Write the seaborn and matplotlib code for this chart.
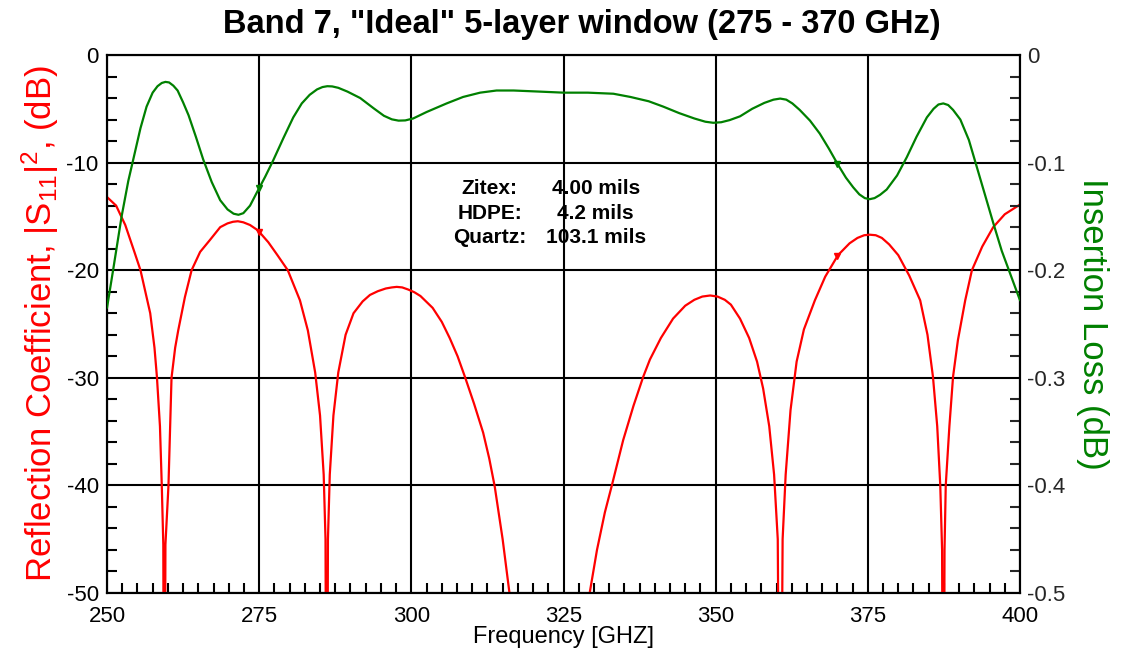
import numpy as np
import pandas as pd
import matplotlib
matplotlib.use("Agg")
import matplotlib.pyplot as plt
import seaborn as sns
from matplotlib.ticker import MultipleLocator

# reflection coefficient |S11|^2 (dB)
red_freq = [250.0, 251.5, 253.0, 254.5, 255.5, 256.5, 257.1, 257.8, 258.2, 258.7, 259.0, 259.25, 259.4,
            259.6, 260.1, 260.6, 261.2, 261.7, 262.8, 263.9, 265.3, 266.9, 268.6, 269.8, 270.7, 271.5,
            272.4, 273.5, 274.8, 276.5, 278.0, 279.7, 281.7, 283.0, 284.2, 285.0, 285.6, 285.9, 286.1,
            286.3, 286.6, 287.2, 288.0, 289.2, 290.5, 292.0, 293.2, 294.5, 295.8, 296.8, 297.6, 298.5,
            299.5, 300.5, 301.5, 303.5, 305.0, 306.3, 307.6, 308.8, 310.3, 311.8, 312.8, 313.7, 315.0,
            316.1, 317.0, 322.5, 328.5, 329.3, 330.5, 331.8, 332.9, 334.8, 336.5, 338.1, 339.2, 341.0,
            343.0, 345.0, 346.5, 347.8, 349.1, 350.3, 351.5, 352.5, 354.0, 355.5, 356.8, 357.8, 358.8,
            359.6, 360.2, 360.6, 361.0, 361.5, 362.3, 363.3, 364.5, 366.3, 368.0, 370.1, 372.0, 373.3,
            374.4, 375.3, 376.3, 377.3, 378.5, 380.0, 381.8, 383.6, 384.8, 385.7, 386.4, 386.9, 387.2,
            387.4, 387.6, 387.8, 388.4, 389.0, 389.8, 391.0, 392.1, 393.8, 395.6, 397.5, 400.0]
red_db = [-13.2, -14.0, -15.8, -18.3, -20.0, -22.5, -24.0, -27.2, -29.9, -34.5, -40.0, -45.5, -80.0,
          -45.5, -40.0, -30.0, -27.2, -25.6, -22.5, -20.0, -18.3, -17.2, -16.0, -15.65, -15.5, -15.45,
          -15.55, -15.8, -16.3, -17.4, -18.6, -20.0, -22.8, -25.6, -29.5, -33.5, -39.0, -45.0, -80.0,
          -45.0, -39.0, -33.5, -29.5, -26.0, -24.0, -22.9, -22.3, -21.95, -21.7, -21.6, -21.55, -21.6,
          -21.8, -22.05, -22.4, -23.5, -24.8, -26.3, -28.0, -29.9, -32.4, -35.1, -37.5, -40.1, -45.0,
          -49.9, -56.0, -75.0, -56.0, -50.0, -46.0, -42.5, -40.1, -35.8, -32.6, -29.9, -28.3, -26.3,
          -24.5, -23.3, -22.75, -22.45, -22.35, -22.45, -22.75, -23.2, -24.5, -26.3, -28.5, -31.0, -34.5,
          -39.0, -45.0, -80.0, -45.0, -39.0, -33.0, -28.5, -25.5, -22.8, -20.6, -18.6, -17.5, -17.0,
          -16.75, -16.7, -16.75, -17.0, -17.6, -18.6, -20.5, -22.8, -26.0, -29.9, -34.5, -40.0, -46.0,
          -80.0, -46.0, -40.0, -34.5, -29.9, -26.5, -22.8, -20.0, -17.8, -16.0, -14.8, -13.9]

# insertion loss (dB)
green_freq = [250.0, 251.0, 252.4, 253.5, 254.4, 255.5, 256.5, 257.5, 258.3, 259.0, 259.6, 260.2, 260.9,
              261.6, 262.5, 263.4, 264.6, 265.8, 267.2, 268.6, 269.8, 270.8, 271.6, 272.4, 273.5, 274.6,
              276.0, 277.3, 279.0, 280.6, 282.0, 283.3, 284.5, 285.4, 286.2, 287.0, 288.0, 289.5, 291.6,
              293.8, 295.5, 296.8, 297.9, 299.0, 300.3, 302.5, 305.8, 308.5, 311.3, 314.0, 316.8, 321.0,
              325.0, 329.0, 333.2, 336.0, 339.0, 341.4, 344.0, 346.5, 348.3, 349.6, 350.9, 352.3, 354.0,
              356.0, 358.0, 359.5, 360.6, 361.6, 362.6, 363.8, 365.5, 367.1, 368.6, 370.1, 371.4, 372.6,
              373.6, 374.5, 375.3, 376.1, 377.0, 378.1, 379.8, 381.4, 383.0, 384.7, 385.8, 386.6, 387.4,
              388.2, 389.0, 390.2, 391.6, 392.9, 394.2, 395.6, 397.0, 398.5, 400.0]
green_il = [-0.235, -0.200, -0.150, -0.117, -0.095, -0.068, -0.048, -0.035, -0.0290, -0.0260, -0.0250,
            -0.0255, -0.0285, -0.0330, -0.044, -0.056, -0.076, -0.097, -0.118, -0.135, -0.1435, -0.1475,
            -0.1485, -0.147, -0.140, -0.128, -0.113, -0.098, -0.077, -0.058, -0.045, -0.037, -0.0320,
            -0.0298, -0.0290, -0.0292, -0.0305, -0.034, -0.040, -0.0495, -0.0565, -0.0598, -0.0610, -0.0608,
            -0.0590, -0.053, -0.045, -0.039, -0.035, -0.033, -0.033, -0.034, -0.035, -0.035, -0.036, -0.039,
            -0.043, -0.048, -0.054, -0.059, -0.0620, -0.0630, -0.0625, -0.0605, -0.057, -0.050, -0.0445,
            -0.0415, -0.0405, -0.0415, -0.0450, -0.051, -0.061, -0.073, -0.087, -0.102, -0.114, -0.123,
            -0.1295, -0.1330, -0.1340, -0.1330, -0.1300, -0.125, -0.112, -0.095, -0.076, -0.058, -0.0500,
            -0.0460, -0.0450, -0.0465, -0.0510, -0.060, -0.079, -0.104, -0.129, -0.156, -0.182, -0.205, -0.228]

band_edges = [275, 370]
layer_names = ["Zitex:", "HDPE:", "Quartz:"]
layer_thick = ["4.00 mils", "4.2 mils", "103.1 mils"]

red_df = pd.DataFrame({"freq": red_freq, "db": red_db})
green_df = pd.DataFrame({"freq": green_freq, "il": green_il})

sns.set_theme(style="white")
plt.rcParams["font.family"] = ["Liberation Sans", "DejaVu Sans"]
plt.rcParams["mathtext.fontset"] = "custom"
plt.rcParams["mathtext.rm"] = "Liberation Sans"
plt.rcParams["mathtext.it"] = "Liberation Sans:italic"
plt.rcParams["mathtext.bf"] = "Liberation Sans:bold"

RED = "#ff0000"
GREEN = "#008000"

fig = plt.figure(figsize=(11.22, 6.58), dpi=100)
ax = fig.add_axes([107 / 1122, 1 - 593 / 658, 913 / 1122, 538 / 658])
ax2 = ax.twinx()

sns.lineplot(data=red_df, x="freq", y="db", ax=ax, color=RED, lw=1.6, sort=False, zorder=3)
sns.lineplot(data=green_df, x="freq", y="il", ax=ax2, color=GREEN, lw=1.6, sort=False, zorder=3)

# small direction markers at the band edges
ax.plot(band_edges, np.interp(band_edges, red_freq, red_db), ls="none", marker="v", ms=5, color=RED, zorder=4)
ax2.plot(band_edges, np.interp(band_edges, green_freq, green_il), ls="none", marker="v", ms=5, color=GREEN, zorder=4)

ax.set_xlim(250, 400)
ax.set_ylim(-50, 0)
ax2.set_ylim(-0.5, 0)

ax.xaxis.set_major_locator(MultipleLocator(25))
ax.xaxis.set_minor_locator(MultipleLocator(2.5))
ax.yaxis.set_major_locator(MultipleLocator(10))
ax.yaxis.set_minor_locator(MultipleLocator(2))
ax2.yaxis.set_major_locator(MultipleLocator(0.1))
ax2.yaxis.set_minor_locator(MultipleLocator(0.02))

ax.grid(True, which="major", color="black", lw=1.5)
ax.set_axisbelow(True)

ax.tick_params(axis="both", which="both", direction="in", colors="black", labelsize=16)
ax.tick_params(axis="y", which="major", length=0, pad=6)
ax.tick_params(axis="x", which="major", length=0, pad=9)
ax.tick_params(axis="y", which="minor", length=7, width=1.5, left=True, right=False)
ax.tick_params(axis="x", which="minor", length=7, width=1.5, bottom=True, top=False)
ax2.tick_params(axis="y", which="major", length=0, labelsize=16, pad=5)
ax2.tick_params(axis="y", which="minor", direction="in", length=7, width=1.5, right=True)

ax.set_yticks([0, -10, -20, -30, -40, -50])
ax.set_yticklabels(["0", "-10", "-20", "-30", "-40", "-50"])
ax2.set_yticks([0, -0.1, -0.2, -0.3, -0.4, -0.5])
ax2.set_yticklabels(["0", "-0.1", "-0.2", "-0.3", "-0.4", "-0.5"])

for a in (ax, ax2):
    for s in a.spines.values():
        s.set_color("black")
        s.set_linewidth(1.5)

ax.set_xlabel("Frequency [GHZ]", fontsize=17, color="black", labelpad=0)
ax.set_ylabel(r"Reflection Coefficient, |S$_{11}$|$^2$, (dB)", fontsize=25, color=RED, labelpad=4)
ax2.set_ylabel("Insertion Loss (dB)", fontsize=25, color=GREEN, labelpad=8, rotation=270, va="bottom")

fig.text(582 / 1122, 1 - 24 / 658, 'Band 7, "Ideal" 5-layer window (275 - 370 GHz)',
         ha="center", va="center", fontsize=23.5, fontweight="bold", color="black")

row_y = [-12.4, -14.7, -17.0]
for name, thick, yy in zip(layer_names, layer_thick, row_y):
    ax.text(312.9, yy, name, ha="center", va="center", fontsize=15, fontweight="bold", color="black")
    ax.text(330.3, yy, thick, ha="center", va="center", fontsize=15, fontweight="bold", color="black")

fig.savefig("out.png", dpi=100, facecolor="white")
